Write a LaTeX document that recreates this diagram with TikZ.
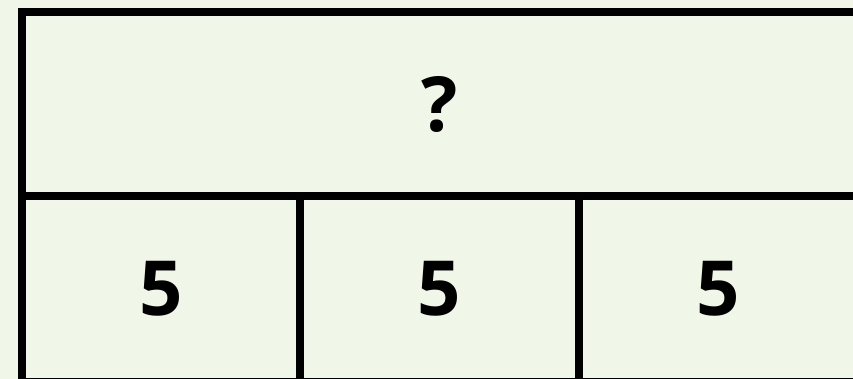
\documentclass[tikz,border=0pt]{standalone}
\usepackage{fontspec}
\setmainfont{Open Sans}
\usepackage{tikz}
\usetikzlibrary{positioning}
\definecolor{barBg}{HTML}{F0F7E8}

\begin{document}
\begin{tikzpicture}[
  x=1pt,
  y=-1pt,
  line join=miter,
  every node/.style={font=\bfseries\fontsize{76}{90}\selectfont, align=center, inner sep=0pt, outer sep=0pt}
]

% ---------- cell styles ----------
\tikzset{
  wholeBar/.style={draw=black, line width=8pt, minimum width=835pt, minimum height=184pt},
  partBar/.style={draw=black, line width=8pt, minimum width=278.33pt, minimum height=186pt}
}

% ---------- page ----------
\fill[barBg] (0,0) rectangle (853,379);
\useasboundingbox (0,0) rectangle (853,379);

% ---------- bar model ----------
\node[wholeBar] (whole) at (439.5,104) {?};
\node[partBar, anchor=north west] (partA) at (whole.south west) {\raisebox{1.5pt}{5}};
\node[partBar, right=0pt of partA] (partB) {\raisebox{1.5pt}{5}};
\node[partBar, right=0pt of partB] (partC) {\raisebox{1.5pt}{5}};

\end{tikzpicture}
\end{document}
